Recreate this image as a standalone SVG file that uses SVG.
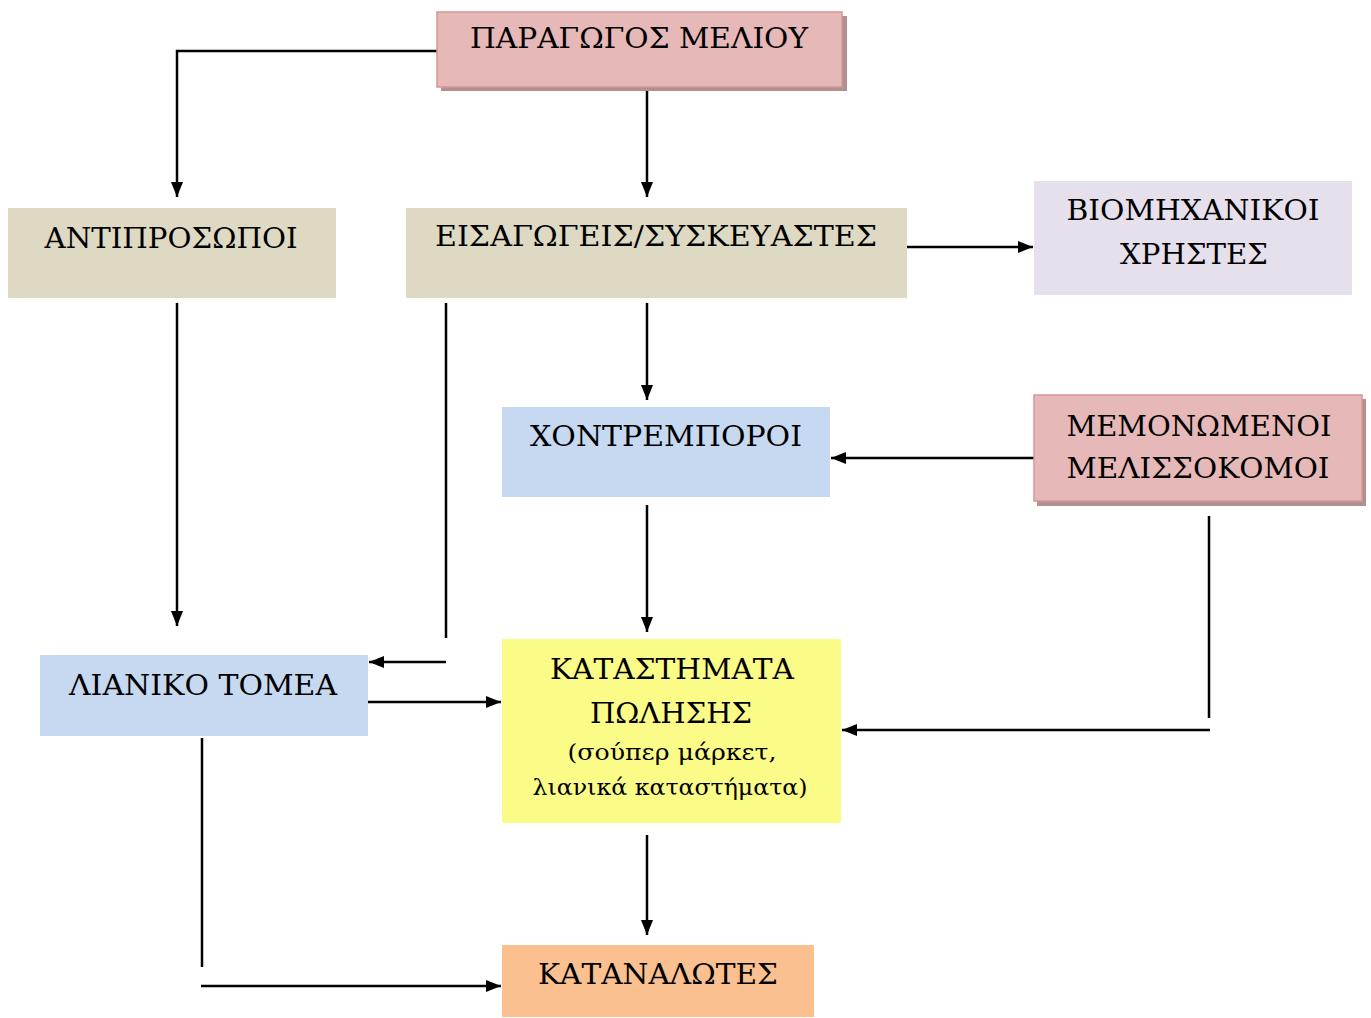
<svg xmlns="http://www.w3.org/2000/svg" width="1371" height="1018" viewBox="0 0 1371 1018">
<defs>
<marker id="ah" viewBox="0 0 15 12" refX="15" refY="6" markerWidth="15" markerHeight="12" markerUnits="userSpaceOnUse" orient="auto">
<path d="M0,0 L15,6 L0,12 Z" fill="#000"/>
</marker>
</defs>
<style>
text{font-family:"DejaVu Serif","Liberation Serif",serif;font-size:28px;fill:#000;text-anchor:middle}
.sm{font-size:23px}
.c{stroke:#000;stroke-width:2.5;fill:none}
.a{marker-end:url(#ah)}
.pink{fill:#e6b8b7;stroke:#d99594;stroke-width:1.5}
.shadow{fill:#b09090}
.tan{fill:#ddd9c3}
.lav{fill:#e5e0ec}
.blue{fill:#c6d9f1}
.yel{fill:#fbfb88}
.org{fill:#fac090}
</style>
<rect width="1371" height="1018" fill="#fff"/>
<g id="connectors">
<polyline class="c a" points="437,51 177,51 177,197"/>
<line class="c a" x1="647" y1="88" x2="647" y2="197"/>
<line class="c a" x1="907" y1="247" x2="1033" y2="247"/>
<line class="c a" x1="647" y1="303" x2="647" y2="400"/>
<line class="c a" x1="1034" y1="458" x2="831" y2="458"/>
<line class="c a" x1="177" y1="303" x2="177" y2="626"/>
<line class="c" x1="446" y1="303" x2="446" y2="638"/>
<line class="c a" x1="446" y1="662" x2="369" y2="662"/>
<line class="c a" x1="368" y1="702" x2="501" y2="702"/>
<line class="c a" x1="647" y1="505" x2="647" y2="632"/>
<line class="c" x1="1209" y1="516" x2="1209" y2="718"/>
<line class="c a" x1="1210" y1="730" x2="842" y2="730"/>
<line class="c a" x1="647" y1="835" x2="647" y2="935"/>
<line class="c" x1="202" y1="738" x2="202" y2="967"/>
<line class="c a" x1="201" y1="986" x2="501" y2="986"/>
</g>
<g id="producer">
<rect class="shadow" x="441" y="16" width="406" height="75"/>
<rect class="pink" x="437" y="12" width="405" height="75"/>
<text x="639" y="48" textLength="338" lengthAdjust="spacingAndGlyphs">ΠΑΡΑΓΩΓΟΣ ΜΕΛΙΟΥ</text>
</g>
<g id="representatives">
<rect class="tan" x="8" y="208" width="328" height="90"/>
<text x="171" y="248" textLength="253" lengthAdjust="spacingAndGlyphs">ΑΝΤΙΠΡΟΣΩΠΟΙ</text>
</g>
<g id="importers">
<rect class="tan" x="406" y="208" width="501" height="90"/>
<text x="656" y="246" textLength="442" lengthAdjust="spacingAndGlyphs">ΕΙΣΑΓΩΓΕΙΣ/ΣΥΣΚΕΥΑΣΤΕΣ</text>
</g>
<g id="industrial">
<rect class="lav" x="1034" y="181" width="318" height="114"/>
<text x="1193" y="220" textLength="253" lengthAdjust="spacingAndGlyphs">ΒΙΟΜΗΧΑΝΙΚΟΙ</text>
<text x="1194" y="264" textLength="148" lengthAdjust="spacingAndGlyphs">ΧΡΗΣΤΕΣ</text>
</g>
<g id="wholesalers">
<rect class="blue" x="502" y="407" width="328" height="90"/>
<text x="666" y="446" textLength="272" lengthAdjust="spacingAndGlyphs">ΧΟΝΤΡΕΜΠΟΡΟΙ</text>
</g>
<g id="beekeepers">
<rect class="shadow" x="1037" y="399" width="329" height="107"/>
<rect class="pink" x="1034" y="395" width="328" height="106"/>
<text x="1199" y="436" textLength="265" lengthAdjust="spacingAndGlyphs">ΜΕΜΟΝΩΜΕΝΟΙ</text>
<text x="1198" y="478" textLength="263" lengthAdjust="spacingAndGlyphs">ΜΕΛΙΣΣΟΚΟΜΟΙ</text>
</g>
<g id="retail">
<rect class="blue" x="40" y="655" width="328" height="81"/>
<text x="203" y="695" textLength="268" lengthAdjust="spacingAndGlyphs">ΛΙΑΝΙΚΟ ΤΟΜΕΑ</text>
</g>
<g id="stores">
<rect class="yel" x="502" y="639" width="339" height="184"/>
<text x="672" y="679" textLength="244" lengthAdjust="spacingAndGlyphs">ΚΑΤΑΣΤΗΜΑΤΑ</text>
<text x="671" y="723" textLength="162" lengthAdjust="spacingAndGlyphs">ΠΩΛΗΣΗΣ</text>
<text class="sm" x="672" y="760" textLength="209" lengthAdjust="spacingAndGlyphs">(σούπερ μάρκετ,</text>
<text class="sm" x="670" y="795" textLength="275" lengthAdjust="spacingAndGlyphs">λιανικά καταστήματα)</text>
</g>
<g id="consumers">
<rect class="org" x="502" y="945" width="312" height="72"/>
<text x="658" y="984" textLength="240" lengthAdjust="spacingAndGlyphs">ΚΑΤΑΝΑΛΩΤΕΣ</text>
</g>
</svg>
